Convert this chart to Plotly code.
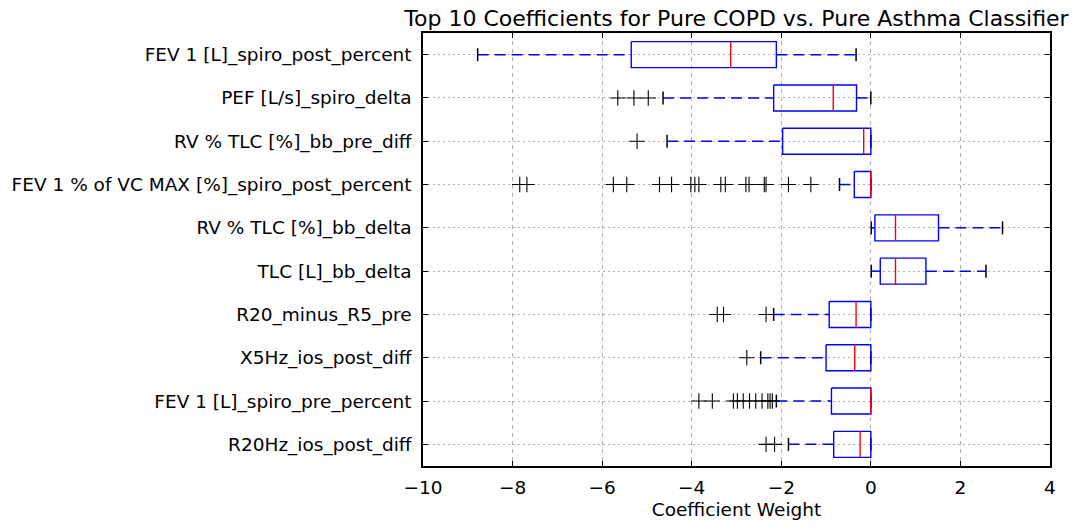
import plotly.graph_objects as go

labels = [
    "FEV 1 [L]_spiro_post_percent",
    "PEF [L/s]_spiro_delta",
    "RV % TLC [%]_bb_pre_diff",
    "FEV 1 % of VC MAX [%]_spiro_post_percent",
    "RV % TLC [%]_bb_delta",
    "TLC [L]_bb_delta",
    "R20_minus_R5_pre",
    "X5Hz_ios_post_diff",
    "FEV 1 [L]_spiro_pre_percent",
    "R20Hz_ios_post_diff",
]
whislo = [-8.78, -4.64, -4.55, -0.70, 0.01, 0.01, -2.17, -2.46, -2.11, -1.84]
q1 = [-5.35, -2.17, -1.97, -0.37, 0.09, 0.21, -0.93, -1.00, -0.88, -0.83]
median = [-3.13, -0.84, -0.16, 0.0, 0.55, 0.55, -0.33, -0.36, 0.0, -0.24]
q3 = [-2.11, -0.32, 0.0, 0.0, 1.51, 1.23, 0.0, 0.0, 0.0, 0.0]
whishi = [-0.33, 0.0, 0.0, 0.0, 2.94, 2.57, 0.0, 0.0, 0.0, 0.0]
outliers = [
    [],
    [-5.65, -5.29, -4.97],
    [-5.22],
    [-7.84, -7.68, -5.75, -5.45, -4.72, -4.45, -4.02, -3.93, -3.84, -3.35,
     -3.25, -2.79, -2.72, -2.38, -2.34, -1.84, -1.34],
    [],
    [],
    [-3.43, -3.29, -2.34],
    [-2.77],
    [-3.84, -3.54, -3.07, -2.98, -2.85, -2.71, -2.57, -2.43, -2.30, -2.25, -2.20],
    [-2.34, -2.15],
]
xticks = [-10, -8, -6, -4, -2, 0, 2, 4]

BW = 0.30  # half box height (style)
CW = 0.15  # half cap height (style)

fig = go.Figure()
pos = list(range(1, len(labels) + 1))

# whiskers
wx, wy = [], []
for p, lo, a, b, hi in zip(pos, whislo, q1, q3, whishi):
    wx += [lo, a, None, b, hi, None]
    wy += [p, p, None, p, p, None]
fig.add_trace(go.Scatter(x=wx, y=wy, mode="lines",
                         line=dict(color="#0000ff", width=1.5, dash="11px,6px"),
                         hoverinfo="skip", showlegend=False))
# caps
cx, cy = [], []
for p, lo, hi in zip(pos, whislo, whishi):
    cx += [lo, lo, None, hi, hi, None]
    cy += [p - CW, p + CW, None, p - CW, p + CW, None]
fig.add_trace(go.Scatter(x=cx, y=cy, mode="lines",
                         line=dict(color="black", width=1.5),
                         hoverinfo="skip", showlegend=False))
# boxes
bx, by = [], []
for p, a, b in zip(pos, q1, q3):
    bx += [a, b, b, a, a, None]
    by += [p - BW, p - BW, p + BW, p + BW, p - BW, None]
fig.add_trace(go.Scatter(x=bx, y=by, mode="lines",
                         line=dict(color="#0000ff", width=1.4),
                         hoverinfo="skip", showlegend=False))
# medians
mx, my = [], []
for p, m in zip(pos, median):
    mx += [m, m, None]
    my += [p - BW, p + BW, None]
fig.add_trace(go.Scatter(x=mx, y=my, mode="lines",
                         line=dict(color="#ff0000", width=1.4),
                         hoverinfo="skip", showlegend=False))
# outliers
ox, oy = [], []
for p, outs in zip(pos, outliers):
    ox += outs
    oy += [p] * len(outs)
fig.add_trace(go.Scatter(x=ox, y=oy, mode="markers",
                         marker=dict(symbol="cross-thin-open", size=11, color="black",
                                     line=dict(color="black", width=1.1)),
                         showlegend=False))

font = "DejaVu Sans"
fig.update_layout(
    width=1086, height=529,
    margin=dict(l=423, r=36, t=33, b=61),
    paper_bgcolor="white", plot_bgcolor="white",
    font=dict(family=font, size=18.5, color="black"),
    title=dict(text="Top 10 Coefficients for Pure COPD vs. Pure Asthma Classifier",
               x=0.5, xref="paper", xanchor="center",
               y=1, yref="paper", yanchor="bottom", pad=dict(b=7),
               font=dict(family=font, size=22, color="black")),
    showlegend=False,
)
fig.update_xaxes(
    range=[-10, 4], tickvals=xticks, ticktext=["\u2212" + str(-v) if v < 0 else str(v) for v in xticks],
    showgrid=True, gridcolor="#b0b0b0", griddash="4px,4px", gridwidth=1,
    zeroline=False, showline=True, linecolor="black", linewidth=1.5, mirror="ticks",
    ticks="inside", ticklen=5, tickcolor="black", ticklabelstandoff=4,
    title=dict(text="Coefficient Weight", font=dict(size=18.5), standoff=6),
)
fig.update_yaxes(
    range=[10.5, 0.5], tickvals=pos, ticktext=labels,
    showgrid=True, gridcolor="#b0b0b0", griddash="2px,3px", gridwidth=1,
    zeroline=False, showline=True, linecolor="black", linewidth=1.5, mirror="ticks",
    ticks="inside", ticklen=5, tickcolor="black", ticklabelstandoff=6,
)

fig.write_html("out.html")
